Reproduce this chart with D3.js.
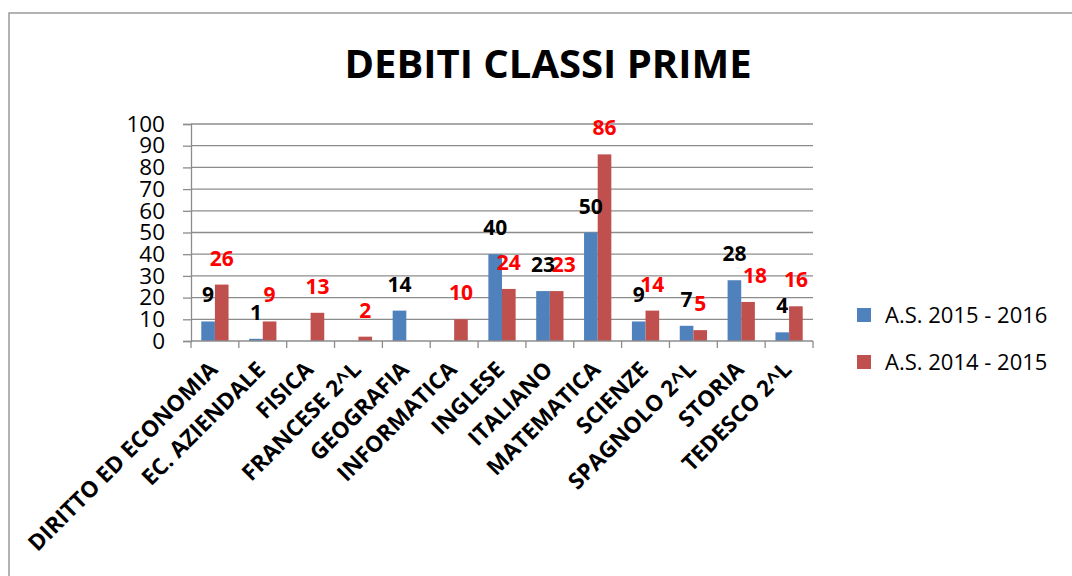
<!DOCTYPE html>
<html>
<head>
<meta charset="utf-8">
<script src="https://cdn.jsdelivr.net/npm/d3@7"></script>
<style>
  body { margin: 0; background: #fff; }
  svg { display: block; font-family: "Open Sans", sans-serif; }
</style>
</head>
<body>
<svg width="1072" height="576"></svg>
<script>
var categories = ["DIRITTO ED ECONOMIA", "EC. AZIENDALE", "FISICA", "FRANCESE 2^L", "GEOGRAFIA",
  "INFORMATICA", "INGLESE", "ITALIANO", "MATEMATICA", "SCIENZE", "SPAGNOLO 2^L", "STORIA", "TEDESCO 2^L"];
var seriesNames = ["A.S. 2015 - 2016", "A.S. 2014 - 2015"];
var values2016 = [9, 1, 0, 0, 14, 0, 40, 23, 50, 9, 7, 28, 4];
var values2015 = [26, 9, 13, 2, 0, 10, 24, 23, 86, 14, 5, 18, 16];
var yTicks = [0, 10, 20, 30, 40, 50, 60, 70, 80, 90, 100];

var svg = d3.select("svg");
var colors = ["#4F81BD", "#C0504D"];
var labelColors = ["#000000", "#FF0000"];

// chart border
svg.append("rect")
    .attr("x", 9).attr("y", 13)
    .attr("width", 1100).attr("height", 600)
    .attr("fill", "none").attr("stroke", "#8a8a8a").attr("stroke-width", 1.3);

svg.append("text")
    .attr("x", 548).attr("y", 78)
    .attr("text-anchor", "middle")
    .attr("font-size", 40).attr("font-weight", "bold")
    .text("DEBITI CLASSI PRIME");

var plotLeft = 191, plotRight = 813, plotTop = 124, plotBottom = 341;

var x = d3.scaleBand().domain(categories).range([plotLeft, plotRight]).paddingInner(0.43).paddingOuter(0.215);
var step = (plotRight - plotLeft) / categories.length;
var xSub = d3.scaleBand().domain([0, 1]).range([0, x.bandwidth()]);
var y = d3.scaleLinear().domain([0, 100]).range([plotBottom, plotTop]);

// gridlines
svg.append("g").selectAll("line").data(yTicks.slice(1)).enter().append("line")
    .attr("x1", plotLeft).attr("x2", plotRight)
    .attr("y1", function(d) { return y(d); }).attr("y2", function(d) { return y(d); })
    .attr("stroke", "#8c8c8c").attr("stroke-width", 1.3);

// y axis
var yAxis = d3.axisLeft(y).tickValues(yTicks).tickSize(8).tickPadding(18);
var gy = svg.append("g").attr("transform", "translate(" + plotLeft + ",0)").call(yAxis);
gy.select(".domain").attr("stroke", "#8c8c8c").attr("stroke-width", 1.3);
gy.selectAll(".tick line").attr("stroke", "#8c8c8c").attr("stroke-width", 1.3);
gy.selectAll(".tick text").attr("font-size", 22.5).attr("font-family", "Open Sans").attr("fill", "#000");

// bars
var series = [values2016, values2015];
series.forEach(function(vals, s) {
  svg.append("g").selectAll("rect").data(vals).enter().append("rect")
      .attr("x", function(d, i) { return x(categories[i]) + xSub(s); })
      .attr("y", function(d) { return y(d); })
      .attr("width", xSub.bandwidth())
      .attr("height", function(d) { return plotBottom - y(d); })
      .attr("fill", colors[s]);
});

// x axis
svg.append("line").attr("x1", plotLeft).attr("x2", plotRight).attr("y1", plotBottom).attr("y2", plotBottom)
    .attr("stroke", "#8c8c8c").attr("stroke-width", 1.3);
svg.append("g").selectAll("line").data(d3.range(categories.length + 1)).enter().append("line")
    .attr("x1", function(i) { return plotLeft + i * step; })
    .attr("x2", function(i) { return plotLeft + i * step; })
    .attr("y1", plotBottom).attr("y2", plotBottom + 7)
    .attr("stroke", "#8c8c8c").attr("stroke-width", 1.3);

// category labels
svg.append("g").selectAll("text").data(categories).enter().append("text")
    .attr("transform", function(d) {
      var cx = x(d) + x.bandwidth() / 2 + 4;
      return "translate(" + cx + "," + (plotBottom + 30) + ") rotate(-45)";
    })
    .attr("text-anchor", "end")
    .attr("font-size", 22.5).attr("font-weight", "bold")
    .text(function(d) { return d; });

// data labels (red label nudged right when it collides with the blue bar or label)
function nudge(i) {
  var redBase = y(values2015[i]) - 19;
  var hitsBar = Math.abs(y(values2016[i]) - redBase) < 6;
  var hitsLabel = Math.abs(y(values2016[i]) - y(values2015[i])) < 8 && values2016[i] >= 10 && values2015[i] >= 10;
  return (hitsBar || hitsLabel) ? 7 : 0;
}
series.forEach(function(vals, s) {
  svg.append("g").selectAll("text").data(vals.map(function(v, i) { return {v: v, i: i}; }))
      .enter().append("text")
      .filter(function(d) { return d.v > 0; })
      .attr("x", function(d) {
        var cx = x(categories[d.i]) + xSub(s) + xSub.bandwidth() / 2;
        if (s == 1) cx += nudge(d.i);
        return cx;
      })
      .attr("y", function(d) { return y(d.v) - 19; })
      .attr("text-anchor", "middle")
      .attr("font-size", 21).attr("font-weight", "bold")
      .attr("fill", labelColors[s])
      .text(function(d) { return d.v; });
});

// legend
var legend = svg.append("g").selectAll("g").data(seriesNames).enter().append("g")
    .attr("transform", function(d, i) { return "translate(857," + (308 + i * 47) + ")"; });
legend.append("rect").attr("width", 14).attr("height", 14)
    .attr("fill", function(d, i) { return colors[i]; });
legend.append("text").attr("x", 28).attr("y", 15)
    .attr("font-size", 22)
    .text(function(d) { return d; });
</script>
</body>
</html>
